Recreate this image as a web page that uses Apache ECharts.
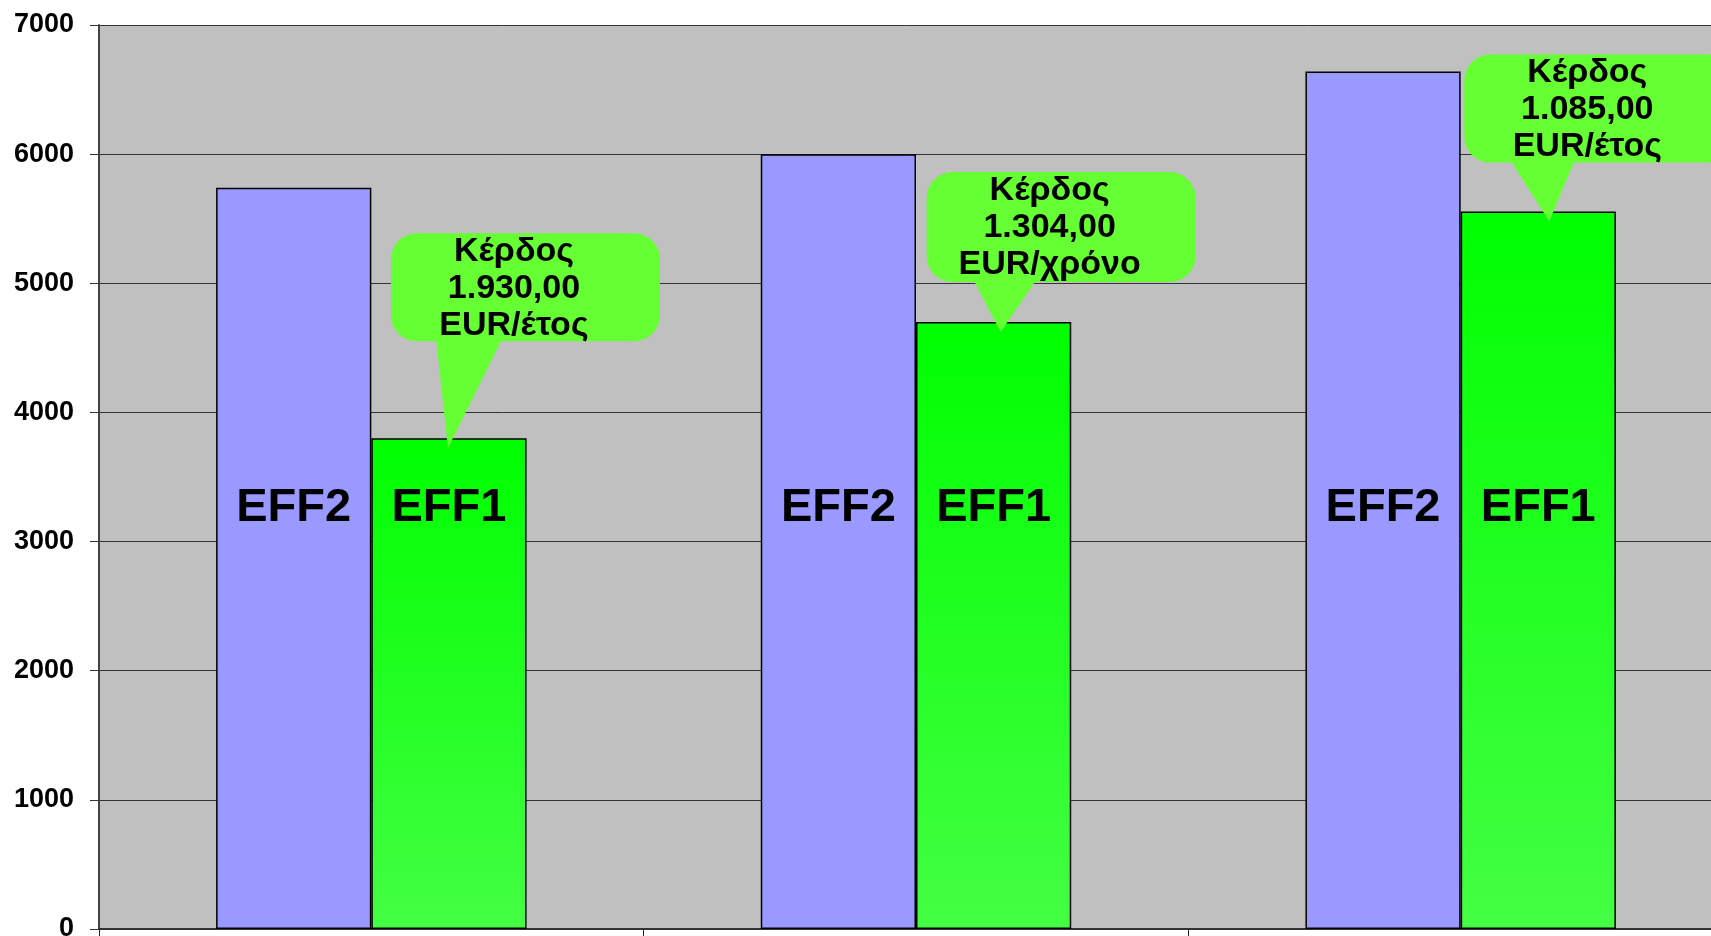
<!DOCTYPE html>
<html>
<head>
<meta charset="utf-8">
<title>EFF2 vs EFF1</title>
<script src="https://cdn.jsdelivr.net/npm/echarts@6/dist/echarts.min.js"></script>
<style>
  html, body { margin: 0; padding: 0; background: #fff; }
  #chart { width: 1711px; height: 936px; }
</style>
</head>
<body>
<div id="chart"></div>
<script>
// data
const categories = ["1", "2", "3"];
const eff2Values = [5740, 6000, 6640];
const eff1Values = [3800, 4700, 5555];
const eff2Label = "EFF2";
const eff1Label = "EFF1";
const gainLines = [
  ["Κέρδος", "1.930,00", "EUR/έτος"],
  ["Κέρδος", "1.304,00", "EUR/χρόνο"],
  ["Κέρδος", "1.085,00", "EUR/έτος"]
];
const yMin = 0;
const yMax = 7000;
const yStep = 1000;

// callout shapes, pixels relative to the pointer tip
const calloutLayout = [
  { tipDx: -1, left: -57, top: -215, bottom: -107, baseL: -12, baseR: 55 },
  { tipDx: 7, left: -74, top: -160, bottom: -50, baseL: -28, baseR: 37 },
  { tipDx: 11, left: -85, top: -167, bottom: -59, baseL: -40, baseR: 26 }
];
const calloutWidth = 269;
const barShare = 0.285; // one bar's width as share of category width

const FONT = "'Liberation Sans', Arial, sans-serif";
const chart = echarts.init(document.getElementById("chart"));

const greenFill = new echarts.graphic.LinearGradient(0, 0, 0, 1, [
  { offset: 0, color: "#00FF00" },
  { offset: 1, color: "#44FF44" }
]);

const barLabel = text => ({
  show: true,
  position: "insideBottom",
  distance: 397,
  formatter: text,
  color: "#000",
  fontFamily: FONT,
  fontWeight: "bold",
  fontSize: 47
});

function renderCallout(params, api) {
  const i = params.dataIndex;
  const lay = calloutLayout[i];
  const pt = api.coord([api.value(0), api.value(1)]);
  const catW = api.size([1, 0])[0];
  const barW = catW * barShare;
  const tipX = pt[0] + barW / 2 + lay.tipDx;
  const tipY = pt[1] + 10;
  const boxX = tipX + lay.left;
  const boxY = tipY + lay.top;
  const boxH = lay.bottom - lay.top;
  return {
    type: "group",
    children: [
      {
        type: "polygon",
        shape: {
          points: [
            [tipX + lay.baseL, tipY + lay.bottom - 4],
            [tipX + lay.baseR, tipY + lay.bottom - 4],
            [tipX, tipY]
          ]
        },
        style: { fill: "#66FF33" }
      },
      {
        type: "rect",
        shape: { x: boxX, y: boxY, width: calloutWidth, height: boxH, r: 26 },
        style: { fill: "#66FF33" }
      },
      {
        type: "text",
        style: {
          text: gainLines[i].join("\n"),
          x: boxX + 123,
          y: boxY + boxH / 2 + 1,
          align: "center",
          verticalAlign: "middle",
          fontFamily: FONT,
          fontWeight: "bold",
          fontSize: 34,
          lineHeight: 37,
          fill: "#000"
        }
      }
    ]
  };
}

const option = {
  animation: false,
  backgroundColor: "#fff",
  grid: {
    left: 99,
    top: 25,
    bottom: 7,
    width: 1634,
    containLabel: false,
    outerBoundsMode: "none",
    show: true,
    backgroundColor: "#C0C0C0",
    borderWidth: 0
  },
  xAxis: {
    type: "category",
    data: categories,
    axisLine: { show: true, lineStyle: { color: "#333", width: 2 } },
    axisTick: { show: true, length: 7, lineStyle: { color: "#222", width: 1 } },
    axisLabel: { show: false },
    splitLine: { show: false }
  },
  yAxis: {
    type: "value",
    min: yMin,
    max: yMax,
    interval: yStep,
    axisLine: { show: true, lineStyle: { color: "#444", width: 2 } },
    axisTick: { show: true, length: 9, lineStyle: { color: "#333", width: 1 } },
    axisLabel: {
      margin: 25,
      color: "#000",
      fontFamily: FONT,
      fontWeight: "bold",
      fontSize: 27,
      formatter: v => String(v)
    },
    splitLine: { show: true, lineStyle: { color: "#333", width: 1 } }
  },
  series: [
    {
      name: eff2Label,
      type: "bar",
      data: eff2Values,
      barGap: "0%",
      barCategoryGap: "43%",
      itemStyle: { color: "#9999FF", borderColor: "#000", borderWidth: 1.5 },
      label: barLabel(eff2Label),
      silent: true,
      z: 2
    },
    {
      name: eff1Label,
      type: "bar",
      data: eff1Values,
      barGap: "0%",
      barCategoryGap: "43%",
      itemStyle: { color: greenFill, borderColor: "#000", borderWidth: 1.5 },
      label: barLabel(eff1Label),
      silent: true,
      z: 2
    },
    {
      type: "custom",
      data: eff1Values.map((v, i) => [i, v]),
      renderItem: renderCallout,
      clip: false,
      silent: true,
      z: 5
    }
  ]
};

chart.setOption(option);
</script>
</body>
</html>
